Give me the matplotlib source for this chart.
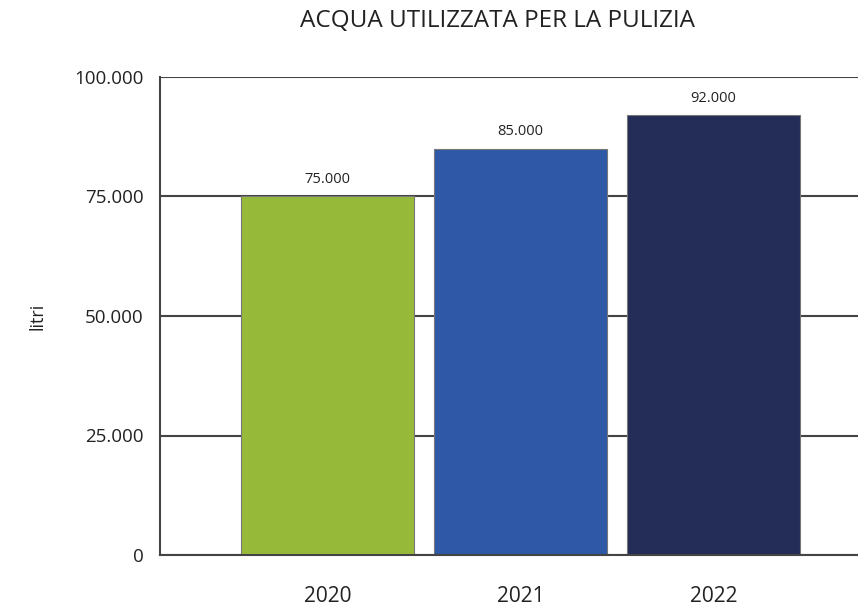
import matplotlib.pyplot as plt
from matplotlib.ticker import FuncFormatter

# Water used for cleaning, litres per year
years = ["2020", "2021", "2022"]
litri = [75000, 85000, 92000]
colori = ["#97b93a", "#2f58a6", "#232d57"]
y_ticks = [0, 25000, 50000, 75000, 100000]

plt.rcParams["font.family"] = ["Open Sans", "DejaVu Sans"]
text_col = "#222222"
line_col = "#444444"


def punto_migliaia(v, pos=None):
    # Italian-style thousands separator
    return f"{int(v):,}".replace(",", ".")


fig = plt.figure(figsize=(8.58, 6.06), dpi=100)
ax = fig.add_axes([160 / 858, 1 - 555 / 606, 1 - 160 / 858, (555 - 77) / 606])

x = range(len(years))
bars = ax.bar(x, litri, width=0.896, color=colori, edgecolor="#777777",
              linewidth=0.8, zorder=3)

for b, v in zip(bars, litri):
    ax.text(b.get_x() + b.get_width() / 2, v + 2000, punto_migliaia(v),
            ha="center", va="bottom", fontsize=10.5, color=text_col)

ax.set_xlim(-0.868, 2.749)
ax.set_ylim(0, 100000)
ax.set_yticks(y_ticks)
ax.yaxis.set_major_formatter(FuncFormatter(punto_migliaia))
ax.set_xticks(list(x))
ax.set_xticklabels(years)

ax.grid(axis="y", color=line_col, linewidth=1.5, zorder=1)
ax.set_axisbelow(True)
for side in ["top", "right"]:
    ax.spines[side].set_visible(False)
for side in ["left", "bottom"]:
    ax.spines[side].set_color(line_col)
    ax.spines[side].set_linewidth(1.5)
ax.spines["bottom"].set_zorder(4)

ax.tick_params(axis="y", length=0, pad=12, labelsize=13.5, labelcolor=text_col)
ax.tick_params(axis="x", length=0, pad=22, labelsize=15, labelcolor=text_col)
ax.set_ylabel("litri", fontsize=13, color=text_col, labelpad=20)

fig.text(497 / 858, 1 - 21 / 606, "ACQUA UTILIZZATA PER LA PULIZIA",
         ha="center", va="center", fontsize=17.5, color=text_col)

fig.savefig("out.png", dpi=100)
